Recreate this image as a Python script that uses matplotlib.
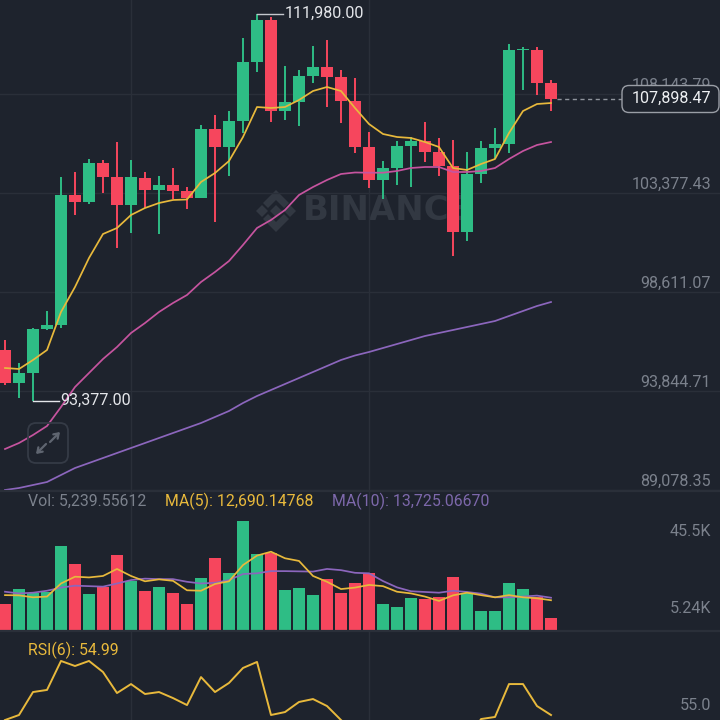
import matplotlib
matplotlib.use("Agg")
import matplotlib.pyplot as plt
from matplotlib.patches import FancyBboxPatch, Polygon

plt.rcParams['font.family'] = ['Roboto', 'DejaVu Sans']

# candles, oldest first
opens = [95819, 94234, 94714, 96828, 97020, 103243, 102954, 104804, 104108, 102786,
         104084, 103507, 103747, 103435, 103122, 106438, 105573, 106823, 109657, 111675,
         107317, 107735, 108985, 109417, 108937, 107783, 105573, 103988, 104564, 105621,
         105862, 105333, 104660, 101489, 104276, 105525, 105717, 110234, 110234, 108648]
highs = [96299, 95194, 96876, 97693, 104132, 104348, 104996, 104948, 105813, 104948,
         104348, 104180, 104564, 103651, 106630, 107111, 107303, 110811, 111980, 111820,
         109465, 109273, 110426, 110715, 109273, 108889, 106294, 104900, 105862, 106054,
         106775, 106006, 105910, 105333, 105862, 106486, 110522, 110378, 110378, 108792]
lows = [94137, 93512, 93377, 96780, 96876, 102306, 102834, 103363, 100720, 101441,
        102642, 101393, 103074, 102594, 103122, 101969, 104180, 106246, 109177, 106775,
        106871, 106582, 108648, 107495, 106726, 105285, 103603, 103074, 103747, 103651,
        104852, 104180, 100336, 101056, 103843, 104996, 105285, 108312, 108072, 107303]
closes = [94248, 94714, 96828, 97020, 103267, 102954, 104804, 104108, 102786, 104108,
          103507, 103747, 103459, 103122, 106438, 105573, 106823, 109657, 111675, 107317,
          107735, 108985, 109417, 108937, 107783, 105573, 103988, 104564, 105621, 105862,
          105333, 104660, 101489, 104276, 105525, 105717, 110234, 110306, 108648, 107898.47]

ma_fast = [94954, 94906, 95339, 95819, 97645, 98846, 100240, 101393, 101681, 102306,
           102642, 102882, 103027, 103051, 103891, 104324, 104900, 106054, 107495, 107447,
           107495, 107832, 108264, 108456, 108264, 107447, 106678, 106198, 106054, 106006,
           105813, 105573, 104564, 104468, 104756, 104996, 106246, 107303, 107639, 107687]
ma_mid = [91062, 91350, 91735, 92167, 93080, 94041, 94714, 95387, 95963, 96636,
          97116, 97645, 98077, 98462, 99086, 99567, 100095, 100868, 101681, 102066,
          102546, 103267, 103651, 103988, 104276, 104348, 104338, 104338, 104420, 104564,
          104612, 104612, 104372, 104372, 104420, 104564, 104996, 105381, 105669, 105813]
ma_slow = [89092, 89188, 89332, 89476, 89813, 90149, 90389, 90629, 90870, 91110,
           91350, 91591, 91831, 92071, 92311, 92600, 92888, 93272, 93609, 93897,
           94185, 94473, 94762, 95050, 95339, 95555, 95723, 95915, 96107, 96299,
           96492, 96636, 96780, 96924, 97068, 97212, 97453, 97693, 97933, 98125]

volumes = [10990, 17310, 15800, 16080, 35040, 27620, 15250, 18000, 31330, 20750,
           16490, 18000, 15660, 11270, 21710, 30230, 23770, 45500, 31600, 32010,
           16760, 17720, 14700, 21430, 15800, 19790, 23770, 11270, 9760, 13470,
           13190, 14150, 22260, 15530, 8380, 8110, 19920, 17180, 14150, 5240]
vol_ma5 = [14800, 14700, 13900, 14200, 19600, 22400, 22100, 22700, 25600, 22700,
           20500, 21300, 20700, 16800, 16600, 19400, 20500, 27200, 31100, 32700,
           30000, 28900, 22700, 20300, 17300, 17900, 19000, 18500, 16200, 15500,
           14200, 12400, 14700, 15800, 14800, 13900, 14800, 13900, 13500, 12690]
vol_ma10 = [16200, 15500, 15800, 16600, 17900, 18700, 18500, 18300, 19600, 21000,
            21600, 21400, 21400, 20300, 19600, 19900, 21000, 23500, 23800, 24700,
            24700, 24600, 24500, 25600, 25100, 24000, 23800, 20600, 18000, 16400,
            16100, 15800, 16600, 16100, 15400, 13900, 13900, 14200, 14600, 13725]
rsi = [51.4, 55.0, 71.4, 72.9, 93.6, 90.0, 93.6, 85.7, 70.7, 77.1,
       70.0, 71.4, 67.1, 62.1, 82.1, 71.4, 77.9, 88.6, 92.9, 55.0,
       57.1, 64.3, 66.4, 61.4, 51.4, 42.0, 32.0, 38.0, 44.0, 47.0,
       40.0, 36.0, 20.0, 35.0, 52.1, 53.6, 77.1, 77.1, 61.4, 54.99]

price_ticks = [108143.79, 103377.43, 98611.07, 93844.71, 89078.35]
price_labels = ["108,143.79", "103,377.43", "98,611.07", "93,844.71", "89,078.35"]
vol_ticks = [45500, 5240]
vol_labels = ["45.5K", "5.24K"]
time_ticks = [9, 26]

BG = '#1e232d'
GRID = '#2a2f39'
GREEN = '#2ebd85'
RED = '#f6465d'
YELLOW = '#e8b93c'
PINK = '#c6549f'
PURPLE = '#8c66bd'
GRAY = '#7b818c'
LABEL = 11.6
LEGEND = 11.45
W = H = 720

fig = plt.figure(figsize=(7.2, 7.2), dpi=100, facecolor=BG)


def panel(top, bottom):
    # axes placed by pixel rows, transparent so the watermark shows through
    ax = fig.add_axes([0, 1 - bottom / H, 1, (bottom - top) / H], zorder=2)
    ax.patch.set_visible(False)
    for s in ax.spines.values():
        s.set_visible(False)
    ax.set_xlim(-5 / 14, 715 / 14)
    ax.set_xticks(time_ticks)
    ax.tick_params(length=0, labelbottom=False, labelleft=False)
    ax.grid(True, axis='x', color=GRID, lw=1)
    ax.set_axisbelow(True)
    return ax


def right_label(ax, y, label, dy, color=GRAY):
    ax.annotate(label, (1, y), xycoords=ax.get_yaxis_transform(), xytext=(-9, dy),
                textcoords='offset pixels', ha='right', va='center', fontsize=LABEL, color=color)


# background layer, pixel coordinates
bg = fig.add_axes([0, 0, 1, 1], zorder=0)
bg.set_xlim(0, W)
bg.set_ylim(H, 0)
bg.axis('off')
cx, cy, mark = 276, 211, '#323842'
shapes = [
    [(0, -6), (6, 0), (0, 6), (-6, 0)],
    [(-14, -6), (-8, 0), (-14, 6), (-20, 0)],
    [(14, -6), (20, 0), (14, 6), (8, 0)],
    [(0, -21), (13, -8), (8, -3), (0, -11), (-8, -3), (-13, -8)],
    [(0, 21), (13, 8), (8, 3), (0, 11), (-8, 3), (-13, 8)],
]
for pts in shapes:
    bg.add_patch(Polygon([(cx + a, cy + b) for a, b in pts], closed=True, fc=mark, ec='none'))
bg.text(303, 211, "BINANCE", fontsize=24.5, fontweight='bold', family='DejaVu Sans',
        color=mark, ha='left', va='center')

# price panel
ax = panel(0, 490.7)
ax.set_ylim(112636.5 - 48.05 * 490.7, 112636.5)
ax.set_yticks(price_ticks)
ax.grid(True, axis='y', color=GRID, lw=1)
for i in range(len(opens)):
    c = GREEN if closes[i] >= opens[i] else RED
    ax.vlines(i, lows[i], highs[i], color=c, lw=1.4, zorder=3)
    ax.bar(i, abs(closes[i] - opens[i]), bottom=min(opens[i], closes[i]), width=0.88, color=c, zorder=3)
x = list(range(len(closes)))
ax.plot(x, ma_slow, color=PURPLE, lw=1.25, zorder=4)
ax.plot(x, ma_mid, color=PINK, lw=1.25, zorder=4)
ax.plot(x, ma_fast, color=YELLOW, lw=1.25, zorder=4)
for tick, label in zip(price_ticks, price_labels):
    right_label(ax, tick, label, 8.5)

# high and low callouts
ax.plot([18, 19.86], [max(highs), max(highs)], color='#c4c7cd', lw=1, zorder=5)
ax.text(20, max(highs), "111,980.00", fontsize=LABEL, color='#e4e6ea', va='center', ha='left', zorder=5)
ax.plot([2, 3.86], [min(lows), min(lows)], color='#e4e6ea', lw=1, zorder=5)
ax.text(3.93, min(lows), "93,377.00", fontsize=LABEL, color='#e4e6ea', va='center', ha='left', zorder=5)
ax.plot([39.4, 44.1], [closes[-1], closes[-1]], color='#8f949d', lw=1, ls=(0, (3, 2.5)), zorder=3)

# volume panel
vax = panel(490.7, 631)
vax.set_ylim(0, 140.3 * 412.5)
vax.bar(x, volumes, width=0.88, color=[GREEN if closes[i] >= opens[i] else RED for i in x], zorder=3)
vax.plot(x, vol_ma10, color=PURPLE, lw=1.25, zorder=4)
vax.plot(x, vol_ma5, color=YELLOW, lw=1.25, zorder=4)
for tick, label in zip(vol_ticks, vol_labels):
    right_label(vax, tick, label, {45500: -10.5, 5240: 10}[tick])

# rsi panel
rax = panel(631, 720)
rax.set_ylim(51.43, 55 + 84 / 1.4)
rax.plot(x, rsi, color=YELLOW, lw=1.4, zorder=4)
right_label(rax, 55.0, "55.0", 10)

# front layer: dividers, legends, last price pill, expand button
fg = fig.add_axes([0, 0, 1, 1], zorder=3)
fg.set_xlim(0, W)
fg.set_ylim(H, 0)
fg.axis('off')
fg.plot([0, W], [490.7, 490.7], color=GRID, lw=1.6)
fg.plot([0, W], [630.8, 630.8], color=GRID, lw=1.6)
fg.text(28, 501.5, "Vol: 5,239.55612", fontsize=LEGEND, color=GRAY, va='center')
fg.text(165, 501.5, "MA(5): 12,690.14768", fontsize=LEGEND, color=YELLOW, va='center')
fg.text(332, 501.5, "MA(10): 13,725.06670", fontsize=LEGEND, color='#7d68ab', va='center')
fg.text(28, 650.5, "RSI(6): 54.99", fontsize=LEGEND, color=YELLOW, va='center')
fg.add_patch(FancyBboxPatch((622, 85.5), 97, 27, boxstyle="round,pad=0,rounding_size=7",
                            fc=BG, ec='#9a9ea6', lw=1))
fg.text(711, 98.7, "107,898.47", fontsize=LABEL, color='#eef0f3', ha='right', va='center')
fg.add_patch(FancyBboxPatch((28, 423), 40, 40, boxstyle="round,pad=0,rounding_size=8",
                            fc='none', ec='#353b46', lw=1.3))
arrow = dict(arrowstyle='->,head_width=0.22,head_length=0.32', color='#5f6570', lw=1.6, shrinkA=0, shrinkB=0)
fg.annotate('', xy=(60, 432), xytext=(50, 442), arrowprops=arrow)
fg.annotate('', xy=(36, 454), xytext=(46, 444), arrowprops=arrow)

fig.savefig('out.png', dpi=100, facecolor=BG)
